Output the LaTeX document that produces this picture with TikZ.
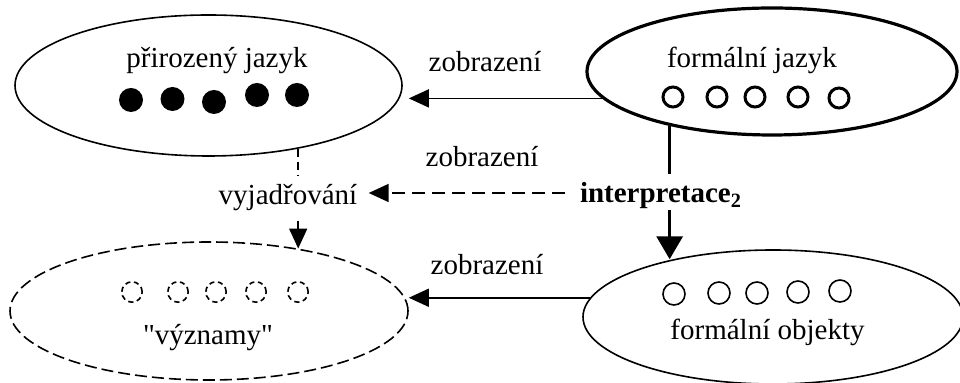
\documentclass[tikz,border=0pt]{standalone}
\usepackage{fontspec}
\setmainfont{Liberation Serif}[Ligatures=TeXOff]
\usetikzlibrary{shapes.geometric,arrows.meta}
\begin{document}
\begin{tikzpicture}[x=0.5pt,y=-0.5pt,
  font=\fontsize{14.5}{17}\selectfont,
  set/.style={ellipse,draw,line width=0.8pt,inner sep=0pt},
  lbl/.style={anchor=base,inner sep=0pt},
  thin/.style={line width=0.8pt},
  arr/.style={thin,-{Triangle[length=10pt,width=9pt]}},
  dashline/.style={thin,dash pattern=on 6.5pt off 3.5pt},
  vdash/.style={thin,dash pattern=on 4pt off 2.5pt},
  boldline/.style={line width=1.7pt},
  boldarr/.style={boldline,-{Triangle[length=11.5pt,width=13pt]}},
  dot/.style={fill=black},
  ring/.style={draw,line width=1.5pt},
  obj/.style={draw,line width=0.8pt},
  meaning/.style={draw,line width=0.8pt,dash pattern=on 2.6pt off 1.8pt}]
\useasboundingbox (0,0) rectangle (960,383);

% the four sets
\node[set,minimum width=193.5pt,minimum height=70.5pt] (e1) at (208.5,85.5) {};
\node[set,line width=1.6pt,minimum width=185pt,minimum height=63.5pt] (e2) at (772,71.5) {};
\node[set,dash pattern=on 6pt off 2.5pt,minimum width=199pt,minimum height=69pt] (e3) at (209,311) {};
\node[set,minimum width=190pt,minimum height=67pt] (e4) at (773,317) {};

% elements of each set
\foreach \x/\y in {131/100,172.5/99,214/102,257/95,297/95}
  \fill[dot] (\x,\y) circle[radius=6pt];
\foreach \x/\y in {673/97,717/97,755/97,798/97,839/98}
  \path[ring] (\x,\y) circle[radius=5pt];
\foreach \x/\y in {132/292,178/292,216/292,256/292,298/292}
  \path[meaning] (\x,\y) circle[radius=5.1pt];
\foreach \x/\y in {674/294,719/293,757/293,798/292,840/291}
  \path[obj] (\x,\y) circle[radius=5.5pt];

% labels
\node[lbl] (n1) at (217,68) {přirozený jazyk};
\node[lbl] (n2) at (752,68) {formální jazyk};
\node[lbl] (n3) at (208,345) {"významy"};
\node[lbl] (n4) at (767.5,340) {formální objekty};
\node[lbl] (z1) at (485,72) {zobrazení};
\node[lbl] (z2) at (482,167) {zobrazení};
\node[lbl] (z3) at (487,275) {zobrazení};
\node[lbl] (vj) at (288,205) {vyjadřování};
\node[lbl,font=\fontsize{14.5}{17}\selectfont\bfseries] (ip) at (661,203) {interpretace\textsubscript{2}};

% mappings
\draw[arr] (e2.189) -- ([xshift=3pt]e2.189 -| e1.east);
\draw[arr] (e4.174) -- (e4.174 -| e3.east);
\coordinate (da) at ([yshift=6pt]vj.base east);
\draw[dashline,-{Triangle[length=10pt,width=9pt]},shorten <=7.5pt,shorten >=5.5pt]
  (ip.base west |- da) -- (da);

% expression
\draw[vdash,shorten >=4pt] (e3.35 |- e1.-35) -- (e3.35 |- vj.north);
\draw[vdash,-{Triangle[length=10pt,width=9pt]},shorten <=4.5pt] (e3.35 |- vj.south) -- (e3.35);

% interpretation
\draw[boldline,shorten >=4pt] (e2.208) -- (e2.208 |- ip.north);
\draw[boldarr] (e2.208 |- ip.south) -- (e2.208 |- e4.150);
\end{tikzpicture}
\end{document}
